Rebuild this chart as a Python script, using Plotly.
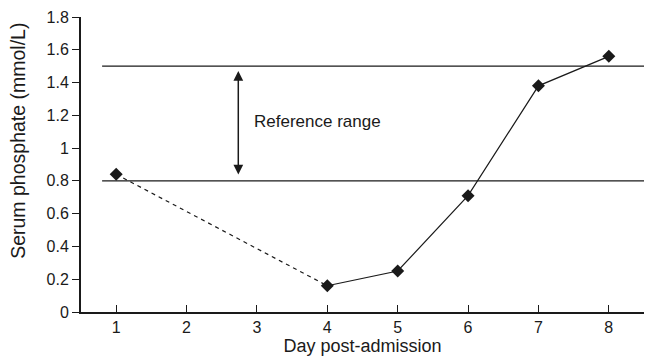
import plotly.graph_objects as go

days = [1, 4, 5, 6, 7, 8]
phosphate = [0.84, 0.16, 0.25, 0.71, 1.38, 1.56]
ref_low = 0.8
ref_high = 1.5
x_ticks = [1, 2, 3, 4, 5, 6, 7, 8]
y_ticks = [0, 0.2, 0.4, 0.6, 0.8, 1, 1.2, 1.4, 1.6, 1.8]
y_tick_text = ["0", "0.2", "0.4", "0.6", "0.8", "1", "1.2", "1.4", "1.6", "1.8"]
ref_label = "Reference range"
x_title = "Day post-admission"
y_title = "Serum phosphate (mmol/L)"

FONT = "Liberation Sans, Arial, Helvetica, sans-serif"
INK = "#1a1a1a"

fig = go.Figure()
# dashed segment (missing days)
fig.add_trace(go.Scatter(x=days[:2], y=phosphate[:2], mode="lines",
                         line=dict(color=INK, width=1.2, dash="4px,4px"),
                         hoverinfo="skip", showlegend=False))
# solid segment
fig.add_trace(go.Scatter(x=days[1:], y=phosphate[1:], mode="lines",
                         line=dict(color=INK, width=1.2),
                         hoverinfo="skip", showlegend=False))
# markers
fig.add_trace(go.Scatter(x=days, y=phosphate, mode="markers",
                         marker=dict(symbol="diamond", size=10, color=INK,
                                     line=dict(width=0)),
                         showlegend=False))

# reference lines
for yv in (ref_low, ref_high):
    fig.add_shape(type="line", xref="x", yref="y", x0=0.8, x1=8.5, y0=yv, y1=yv,
                  line=dict(color=INK, width=1.3), layer="below")

# double-headed arrow
fig.add_annotation(x=2.735, y=ref_high - 0.03, ax=2.735, ay=ref_low + 0.03,
                   xref="x", yref="y", axref="x", ayref="y",
                   text="", showarrow=True, arrowhead=2, startarrowhead=2,
                   arrowside="end+start", arrowsize=1.3, startarrowsize=1.3,
                   arrowwidth=1.5, arrowcolor=INK, standoff=0, startstandoff=0)
fig.add_annotation(x=2.93, y=1.162, xref="x", yref="y", text=ref_label,
                   showarrow=False, xanchor="left", yanchor="middle",
                   font=dict(family=FONT, size=17, color=INK))

# y-axis title (placed as annotation to match the reference position)
fig.add_annotation(x=-0.112, y=0.58, xref="paper", yref="paper", text=y_title,
                   textangle=-90, showarrow=False, xanchor="center", yanchor="middle",
                   font=dict(family=FONT, size=19.5, color=INK))

fig.update_layout(
    width=649, height=362,
    margin=dict(l=81, r=5, t=17, b=50),
    paper_bgcolor="white", plot_bgcolor="white",
    font=dict(family=FONT, size=16, color=INK),
    xaxis=dict(range=[0.5, 8.5], tickvals=x_ticks, ticktext=[str(v) for v in x_ticks],
               ticks="inside", ticklen=7, tickwidth=1, tickcolor=INK,
               showline=True, linecolor=INK, linewidth=1.5,
               showgrid=False, zeroline=False, automargin=False,
               title=dict(text=x_title, standoff=0,
                          font=dict(family=FONT, size=18, color=INK)),
               tickfont=dict(family=FONT, size=16, color=INK)),
    yaxis=dict(range=[0, 1.8], tickvals=y_ticks, ticktext=y_tick_text,
               ticks="outside", ticklen=7, tickwidth=1, tickcolor=INK,
               showline=True, linecolor=INK, linewidth=2,
               showgrid=False, zeroline=False, automargin=False,
               tickfont=dict(family=FONT, size=16, color=INK)),
)

fig.write_html("out.html", config={"displayModeBar": False},
               post_script="document.body.style.margin='0';")
